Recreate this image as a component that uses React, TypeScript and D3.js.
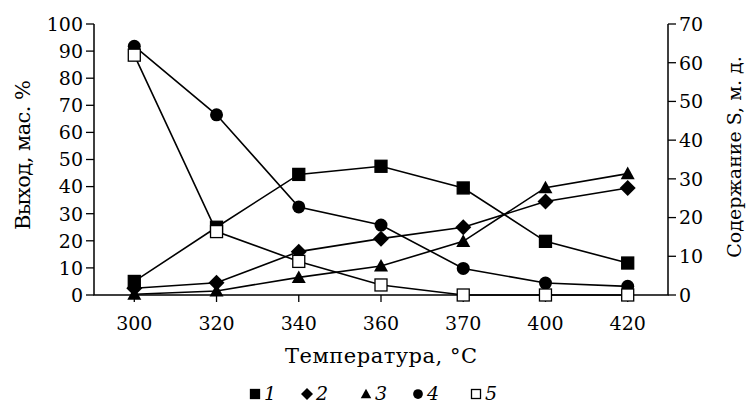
import React from "react";
import * as d3 from "d3";

const categories = ["300", "320", "340", "360", "370", "400", "420"];
const series1 = [5, 25, 44.5, 47.5, 39.5, 19.8, 11.8];
const series2 = [2.5, 4.5, 16, 20.8, 25, 34.5, 39.5];
const series3 = [0.3, 1.5, 6.5, 10.7, 19.8, 39.6, 44.8];
const series4 = [91.8, 66.5, 32.5, 25.8, 9.8, 4.4, 3.2];
const series5 = [88.5, 23.4, 12.4, 3.7, 0, 0, 0];
const leftTicks = [0, 10, 20, 30, 40, 50, 60, 70, 80, 90, 100];
const rightTicks = [0, 10, 20, 30, 40, 50, 60, 70];
const legendLabels = ["1", "2", "3", "4", "5"];

const W = 746, H = 405;
const left = 94, right = 668, top = 24, bottom = 295;
const FONT = "'DejaVu Serif', 'Liberation Serif', serif";
const FS = 19;

type Shape = "square" | "diamond" | "triangle" | "circle" | "open";

const Marker = ({ shape, x, y, s = 1 }: { shape: Shape; x: number; y: number; s?: number }) => {
  if (shape === "square" || shape === "open") {
    const a = 12 * s;
    return (
      <rect x={x - a / 2} y={y - a / 2} width={a} height={a}
        fill={shape === "open" ? "#fff" : "#000"} stroke="#000" strokeWidth={1.3} />
    );
  }
  if (shape === "diamond") {
    const a = 8 * s;
    return <path d={`M${x},${y - a}L${x + a},${y}L${x},${y + a}L${x - a},${y}Z`} fill="#000" />;
  }
  if (shape === "triangle") {
    const a = 7 * s;
    return <path d={`M${x},${y - a}L${x + a},${y + a * 0.8}L${x - a},${y + a * 0.8}Z`} fill="#000" />;
  }
  return <circle cx={x} cy={y} r={6.5 * s} fill="#000" />;
};

export default function App() {
  const x = d3.scalePoint<string>().domain(categories).range([left, right]).padding(0.49);
  const y = d3.scaleLinear().domain([0, 100]).range([bottom, top]);
  const yR = d3.scaleLinear().domain([0, 70]).range([bottom, top]);
  const line = d3.line<number>().x((_, i) => x(categories[i])!).y((d) => y(d));

  const all: { data: number[]; shape: Shape }[] = [
    { data: series1, shape: "square" },
    { data: series2, shape: "diamond" },
    { data: series3, shape: "triangle" },
    { data: series4, shape: "circle" },
    { data: series5, shape: "open" },
  ];
  const legendX = [255, 307, 366, 418, 476];
  const legendShapes: Shape[] = ["square", "diamond", "triangle", "circle", "open"];

  return (
    <svg width={W} height={H} style={{ position: "absolute", left: 0, top: 0, background: "#fff" }}
      fontFamily={FONT}>
      <rect width={W} height={H} fill="#fff" />
      {/* axes */}
      <path d={`M${left},${top}V${bottom}H${right}V${top}`} fill="none" stroke="#000" strokeWidth={1.5} />
      {leftTicks.map((t) => (
        <g key={"l" + t}>
          <line x1={left - 8} x2={left} y1={y(t)} y2={y(t)} stroke="#000" strokeWidth={1.3} />
          <text x={left - 11} y={y(t)} dy="0.36em" textAnchor="end" fontSize={FS}>{t}</text>
        </g>
      ))}
      {rightTicks.map((t) => (
        <g key={"r" + t}>
          <line x1={right} x2={right + 8} y1={yR(t)} y2={yR(t)} stroke="#000" strokeWidth={1.3} />
          <text x={right + 11} y={yR(t)} dy="0.36em" textAnchor="start" fontSize={FS}>{t}</text>
        </g>
      ))}
      {categories.map((c) => (
        <g key={"x" + c}>
          <line x1={x(c)} x2={x(c)} y1={bottom} y2={bottom + 7} stroke="#000" strokeWidth={1.3} />
          <text x={x(c)} y={bottom + 28} dy="0.36em" textAnchor="middle" fontSize={FS}>{c}</text>
        </g>
      ))}
      <text x={381} y={355} dy="0.36em" textAnchor="middle" fontSize={21} textLength={192} lengthAdjust="spacing">Температура, °C</text>
      <text transform={`translate(22,155) rotate(-90)`} dy="0.36em" textAnchor="middle" fontSize={21} textLength={150} lengthAdjust="spacing">Выход, мас. %</text>
      <text transform={`translate(734,157) rotate(-90)`} dy="0.36em" textAnchor="middle" fontSize={FS}>Содержание S, м. д.</text>
      {/* lines */}
      {all.map((s, i) => (
        <path key={"p" + i} d={line(s.data)!} fill="none" stroke="#000" strokeWidth={1.6} />
      ))}
      {all.map((s, i) =>
        s.data.map((v, j) => <Marker key={`m${i}-${j}`} shape={s.shape} x={x(categories[j])!} y={y(v)} />)
      )}
      {/* legend */}
      {legendLabels.map((l, i) => (
        <g key={"lg" + i}>
          <Marker shape={legendShapes[i]} x={legendX[i]} y={394} s={0.75} />
          <text x={legendX[i] + 9} y={393} dy="0.36em" fontSize={FS} fontStyle="italic">{l}</text>
        </g>
      ))}
    </svg>
  );
}
